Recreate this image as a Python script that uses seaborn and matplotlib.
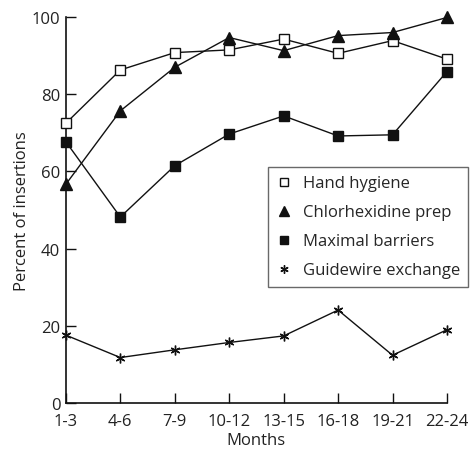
import pandas as pd
import matplotlib
matplotlib.use("Agg")
import matplotlib.pyplot as plt
from matplotlib.lines import Line2D
import seaborn as sns

months = ["1-3", "4-6", "7-9", "10-12", "13-15", "16-18", "19-21", "22-24"]
hand_hygiene = [72.5, 86.3, 90.8, 91.5, 94.3, 90.6, 93.9, 89.1]
chlorhexidine = [56.7, 75.7, 87.0, 94.7, 91.3, 95.2, 96.0, 99.9]
max_barriers = [67.7, 48.2, 61.5, 69.7, 74.4, 69.2, 69.5, 85.9]
guidewire = [17.6, 11.8, 13.8, 15.7, 17.4, 24.1, 12.4, 19.0]

series = {
    "Hand hygiene": hand_hygiene,
    "Chlorhexidine prep": chlorhexidine,
    "Maximal barriers": max_barriers,
    "Guidewire exchange": guidewire,
}
styles = {
    "Hand hygiene": dict(marker="s", markersize=7.5, markerfacecolor="white"),
    "Chlorhexidine prep": dict(marker="^", markersize=9, markerfacecolor="#111111"),
    "Maximal barriers": dict(marker="s", markersize=7.5, markerfacecolor="#111111"),
    "Guidewire exchange": dict(marker=(6, 2, 0), markersize=7, markerfacecolor="#111111"),
}

sns.set_style("white")
plt.rcParams["font.family"] = ["Open Sans", "DejaVu Sans"]

fig = plt.figure(figsize=(4.74, 4.52), dpi=100)
ax = fig.add_axes([0.139, 0.106, 0.804, 0.854])

handles = []
for name, vals in series.items():
    df = pd.DataFrame({"month": months, "pct": vals})
    st = styles[name]
    sns.lineplot(data=df, x="month", y="pct", ax=ax, color="#111111",
                 linewidth=1, markeredgecolor="#111111", markeredgewidth=1,
                 clip_on=False, zorder=3, **st)
    handles.append(Line2D([], [], linestyle="none", color="#111111",
                          markeredgecolor="#111111", markeredgewidth=1,
                          marker=st["marker"], markersize=st["markersize"] * 0.85,
                          markerfacecolor=st["markerfacecolor"], label=name))

ax.set_xlim(0, len(months) - 1)
ax.set_ylim(0, 100)
ax.set_yticks([0, 20, 40, 60, 80, 100])
ax.set_xlabel("Months", fontsize=12, labelpad=2, color="#222222")
ax.set_ylabel("Percent of insertions", fontsize=12, labelpad=1, color="#222222")
ax.tick_params(axis="both", direction="in", length=7, width=1, labelsize=12,
               color="#111111", labelcolor="#222222")
ax.tick_params(axis="x", bottom=True, pad=7)
ax.tick_params(axis="y", left=True, pad=4)
for s in ["top", "right"]:
    ax.spines[s].set_visible(False)
for s in ["left", "bottom"]:
    ax.spines[s].set_color("#111111")
    ax.spines[s].set_linewidth(1.2)

fig.legend(handles=handles, loc="upper left", bbox_to_anchor=(0.565, 0.628),
           frameon=True, fancybox=False, edgecolor="#444444", fontsize=12,
           labelspacing=0.78, handlelength=1.0, handletextpad=0.6,
           borderpad=0.5, borderaxespad=0)

fig.savefig("out.png", dpi=100)
